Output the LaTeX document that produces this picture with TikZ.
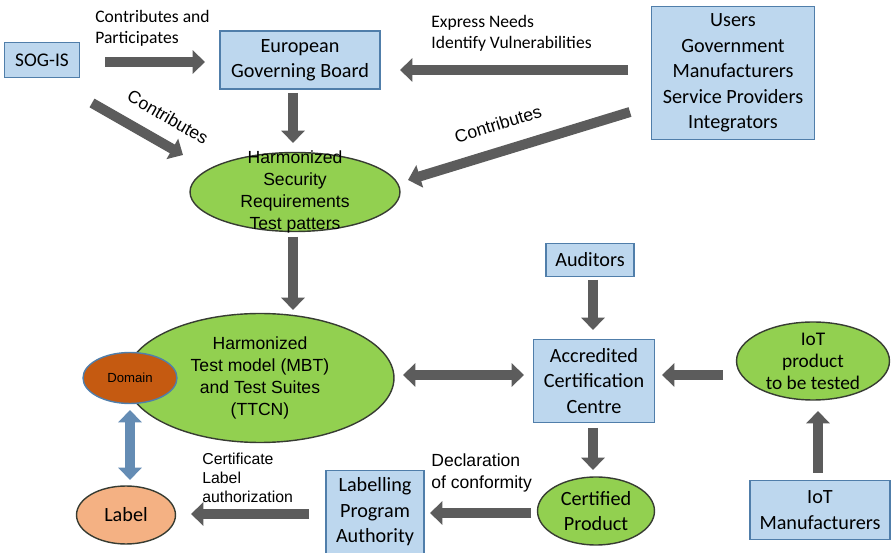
\documentclass[tikz,border=0pt]{standalone}
\usepackage{fontspec}
\setmainfont{Carlito}
\newfontfamily\arialfont{Liberation Sans}
\usetikzlibrary{shapes.geometric, arrows.meta, calc}
\definecolor{boxfill}{RGB}{189, 215, 238}
\definecolor{boxline}{RGB}{80, 126, 170}
\definecolor{greenfill}{RGB}{146, 208, 80}
\definecolor{ellline}{RGB}{55, 60, 50}
\definecolor{domainfill}{RGB}{197, 90, 17}
\definecolor{labelfill}{RGB}{244, 177, 131}
\definecolor{arrowgray}{RGB}{92, 92, 92}
\definecolor{arrowblue}{RGB}{100, 140, 180}

\begin{document}
\begin{tikzpicture}[
   x=0.02cm, y=-0.02cm,
   bluebox/.style={rectangle, draw=boxline, fill=boxfill, line width=0.8, align=center,
                   inner sep=0, font=\fontsize{11.5}{14.5}\selectfont},
   greenell/.style={ellipse, draw=ellline, fill=greenfill, line width=0.8, inner sep=0},
   elltext/.style={align=center, inner sep=0, font=\arialfont\fontsize{10}{12.5}\selectfont},
   calltext/.style={align=center, inner sep=0, font=\fontsize{11.5}{14.5}\selectfont},
   edgetext/.style={align=left, inner sep=0, font=\fontsize{10}{12}\selectfont},
   arialedge/.style={align=left, inner sep=0, font=\arialfont\fontsize{10}{12.5}\selectfont},
   blk/.style={->, >={Triangle[width=13pt, length=7pt]}, line width=5.7, color=arrowgray},
   blueblk/.style={<->, >={Triangle[width=13pt, length=7pt]}, line width=5.7, color=arrowblue}
  ]

  \useasboundingbox (0, 0) rectangle (893, 553);

  % Boxes
  \node (sogis) at (42, 60) [bluebox, minimum width=1.5cm, minimum height=0.7cm,
                             font=\fontsize{11}{13}\selectfont] {SOG-IS};
  \node (egb) at (300, 60) [bluebox, minimum width=3.2cm, minimum height=1.16cm]
        {European\\Governing Board};
  \node (users) at (733, 73) [bluebox, minimum width=3.26cm, minimum height=2.66cm]
        {Users\\Government\\Manufacturers\\Service Providers\\Integrators};
  \node (auditors) at (590, 260) [bluebox, minimum width=1.76cm, minimum height=0.66cm] {Auditors};
  \node (acc) at (594, 381) [bluebox, minimum width=2.42cm, minimum height=1.66cm]
        {Accredited\\Certification\\Centre};
  \node (lpa) at (375, 512) [bluebox, minimum width=1.96cm, minimum height=1.66cm]
        {Labelling\\Program\\Authority};
  \node (iotm) at (820, 510) [bluebox, minimum width=2.8cm, minimum height=1.18cm]
        {IoT\\Manufacturers};

  % Ellipses
  \node (hsr) at (295, 192) [greenell, minimum width=4.2cm, minimum height=1.58cm] {};
  \node (hsrtext) at (hsr) [elltext] {Harmonized\\Security\\Requirements\\Test patters};
  \node (htm) at (260, 378) [greenell, minimum width=5.36cm, minimum height=2.58cm] {};
  \node (htmtext) at (260, 378) [elltext] {Harmonized\\Test model (MBT)\\and Test Suites\\(TTCN)};
  \node (domain) at (130, 378) [ellipse, draw=boxline, fill=domainfill, line width=0.8,
                               inner sep=0, minimum width=1.88cm, minimum height=1.02cm,
                               font=\arialfont\fontsize{7.5}{9}\selectfont] {Domain};
  \node (label) at (126, 515) [ellipse, draw=ellline, fill=labelfill, line width=0.8,
                              inner sep=0, minimum width=1.98cm, minimum height=1.16cm,
                              font=\fontsize{11.5}{14}\selectfont] {Label};
  \node (iotp) at (813, 361) [greenell, minimum width=3.06cm, minimum height=1.56cm] {};
  \node (iotptext) at (iotp) [calltext, font=\fontsize{11}{12.5}\selectfont]
        {IoT\\product\\to be tested};
  \node (cert) at (596, 511) [greenell, minimum width=2.34cm, minimum height=1.36cm] {};
  \node (certtext) at (cert) [calltext] {Certified\\Product};

  % Connector labels
  \node (lblcp) at (95, 28) [edgetext, anchor=west] {Contributes and\\Participates};
  \node (lblexp) at (431, 33) [edgetext, anchor=west] {Express Needs\\Identify Vulnerabilities};
  \node (lblcon1) at (168, 117) [arialedge, rotate=-30] {Contributes};
  \node (lblcon2) at (498, 124) [arialedge, rotate=17] {Contributes};
  \node (lblcert) at (202, 478) [arialedge, anchor=west, font=\arialfont\fontsize{9}{10.8}\selectfont]
        {Certificate\\Label\\authorization};
  \node (lbldecl) at (431, 473) [arialedge, anchor=west] {Declaration\\of conformity};

  % Block arrows
  \foreach \A/\ax/\ay/\B/\bx/\by in {sogis/63/2/egb/-95/2, users/-105/-3/egb/100/10,
      egb/-7/33/hsr/-2/-49, sogis/50/43/hsr/-112/-37, users/-103/39/hsr/113/-12,
      hsr/-2/45/htm/33/-68, auditors/3/20/acc/-1/-51, iotp/-90/14/acc/68/-6,
      acc/-1/47/cert/-3/-41, iotm/-2/-37/iotp/5/50, cert/-65/2/lpa/55/1,
      lpa/-66/2/label/65/-1} {
    \draw[blk] ($(\A)+(\ax,\ay)$) -- ($(\B)+(\bx,\by)$);
  }
  \draw[blk, <->] ($(htm)+(143,-3)$) -- ($(acc)+(-70,-6)$);
  \draw[blueblk] ($(domain)+(0,32)$) -- ($(label)+(4,-35)$);

\end{tikzpicture}
\end{document}
